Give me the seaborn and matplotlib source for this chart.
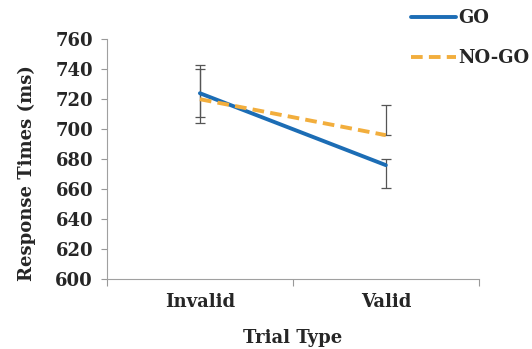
import pandas as pd
import matplotlib.pyplot as plt
import seaborn as sns

# data
trial_types = ['Invalid', 'Valid']
go_rt = [724, 676]
nogo_rt = [720, 696]
go_err_low = [20, 15.5]
go_err_high = [19, 4]
nogo_err_low = [12, 0]
nogo_err_high = [20, 20]
conditions = ['GO', 'NO-GO']

df = pd.DataFrame({
    'Trial Type': trial_types * 2,
    'RT': go_rt + nogo_rt,
    'Condition': [conditions[0]] * 2 + [conditions[1]] * 2,
})

sns.set_style('white')
plt.rcParams['font.family'] = ['DejaVu Serif']
plt.rcParams['font.weight'] = 'bold'

fig = plt.figure(figsize=(5.32, 3.49), dpi=100)
ax = fig.add_axes([0.201, 0.2006, 0.699, 0.6868])

err_kw = dict(fmt='none', ecolor='#555555', elinewidth=0.9, capsize=3.5, capthick=0.9, zorder=1)
ax.errorbar(trial_types, go_rt, yerr=[go_err_low, go_err_high], **err_kw)
ax.errorbar(trial_types, nogo_rt, yerr=[nogo_err_low, nogo_err_high], **err_kw)

sns.lineplot(data=df, x='Trial Type', y='RT', hue='Condition', style='Condition',
             palette={'GO': '#1c6db5', 'NO-GO': '#f2ae3d'},
             dashes={'GO': '', 'NO-GO': (3.0, 1.6)},
             linewidth=2.8, ax=ax, zorder=3)

ax.set_xlim(-0.5, 1.5)
ax.set_ylim(600, 760)
ax.set_yticks(range(600, 761, 20))
ax.set_xticks([-0.5, 0.5, 1.5], minor=False)
ax.set_xticks([0, 1], minor=True)
ax.set_xticklabels(['', '', ''])
ax.set_xticklabels(trial_types, minor=True)
ax.tick_params(axis='x', which='major', bottom=True, direction='out', length=5, width=0.8, color='#999999')
ax.tick_params(axis='x', which='minor', bottom=True, length=0, pad=10, labelsize=13)
ax.tick_params(axis='y', left=True, direction='out', length=4, width=0.8, color='#999999', pad=6, labelsize=13)

for s in ['top', 'right']:
    ax.spines[s].set_visible(False)
for s in ['left', 'bottom']:
    ax.spines[s].set_color('#a0a0a0')
    ax.spines[s].set_linewidth(0.8)

ax.set_xlabel('Trial Type', fontsize=13, fontweight='bold', labelpad=13)
ax.set_ylabel('Response Times (ms)', fontsize=13, fontweight='bold', labelpad=14)
ax.yaxis.label.set_y(0.44)

handles, labels = ax.get_legend_handles_labels()
ax.get_legend().remove()
fig.legend(handles, labels, loc='upper right', bbox_to_anchor=(1.025, 1.02), frameon=False,
           fontsize=13, handlelength=2.5, handletextpad=0.1, labelspacing=1.2)

fig.savefig('out.png', dpi=100)
